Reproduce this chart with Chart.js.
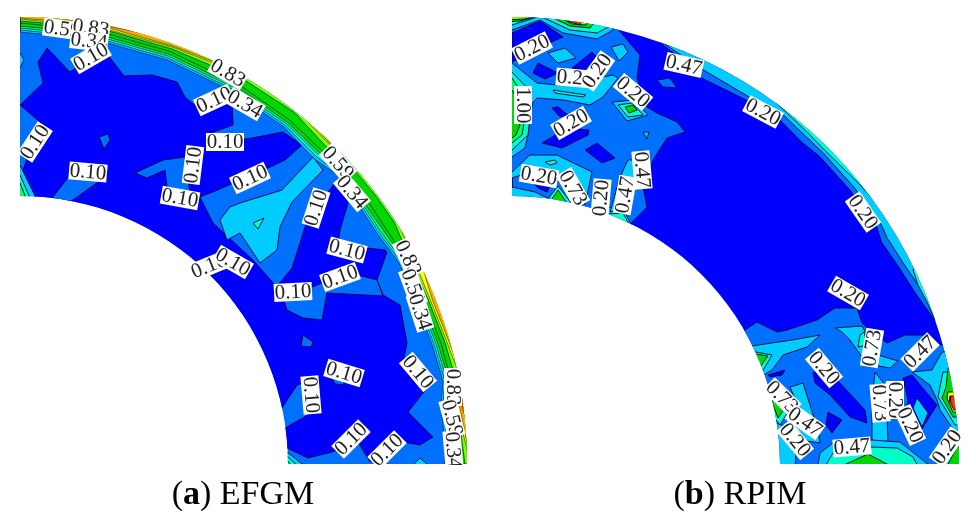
<!DOCTYPE html>
<html><head><meta charset="utf-8">
<style>html,body{margin:0;padding:0;background:#fff}#w{position:absolute;left:0;top:0;width:976px;height:528px}#c{filter:blur(0.45px)}</style>
<script src="https://cdn.jsdelivr.net/npm/chart.js@4"></script></head>
<body><div id="w"><canvas id="c" width="976" height="528"></canvas></div>
<script>
// contour palette (low to high)
const C0='#0000ff',C1='#0070ff',C2='#00ccff',C3='#00ffc8',C4='#00ff64',C5='#00d800',C6='#80ff00',C7='#ffff00',C8='#ffa800',C9='#ff3000';

// ---------- (a) EFGM : contours near the outer rim, radii read per angle
const aThetas=[90,80,70,60,52,46,42,37,33,28,22,16,11,8,4,0];
const aCyan  =[432,431,430,429,428,424,430,426,425,429,428,429,431,425,425,425];
const aTeal  =[434,433,432,431,430,427,432,428,427,431,430,431,433,427,427,427];
const aMint  =[436,435,434,433,432,430,434,430,429,433,432,433,435,429,429,429];
const aGreen =[438,437,436,435,434,432,436,432,432,435,434,435,437,431,431,431];
const aDark  =[441,440,439,438,437,435,439,436,435,437,436,438,439,434,434,434];
const aLime  =[443,443,442,445,446,441,445.5,445.5,445.5,441,440,442,444,438,442,445];
const aYellow=[445,444,444,449,449,445,449,449,449,444,442,444,449,441,444,451];
const aOrange=[446,446,445,451,451,446,451,451,451,451,444,446,451,443,446,451];
const aRed   =[451,447,451,451,451,451,451,451,451,451,451,451,451,445,451,451];

// (a) regions
const aBase=[[10,10],[480,10],[480,470],[10,470]];
const aDeep=[[20,105],[43,83],[38,62],[47,48],[70,72],[80,65],[108,55],[124,76],[152,75],[177,82],[185,97],[197,107],[232,100],[233,125],[208,134],[240,140],[257,137],[283,132],[302,145],[285,160],[268,168],[240,180],[220,189],[200,197],[213,223],[253,260],[275,285],[278,285],[292,268],[300,243],[305,227],[328,192],[337,180],[348,203],[340,230],[338,245],[385,250],[387,252],[377,280],[383,295],[400,305],[407,343],[403,363],[435,378],[408,412],[433,437],[420,445],[403,442],[385,455],[370,462],[358,442],[332,452],[308,458],[287,448],[285,428],[308,415],[303,383],[297,385],[282,408],[200,400],[100,280],[33,195],[23,170],[30,150],[47,128]];
const aFinger=[[135,173],[163,160],[185,157],[190,193],[200,198],[185,200],[167,187],[165,170],[147,178]];
const aWedge=[[53,197],[70,175],[88,172],[105,177],[73,200],[60,205]];
const aPatch=[[278,287],[283,297],[287,310],[303,318],[322,320],[327,293],[383,296],[377,280],[358,275],[342,265],[325,282],[312,287]];
const aSpecks=[[99,137],[108,134],[110,140],[104,149]];
const aSpeck2=[[303,335],[313,342],[311,347],[301,346]];
const aSpeck3=[[332,378],[345,381],[343,385],[335,384]];
const aLake=[[313,157],[282,190],[240,203],[230,207],[220,220],[227,240],[240,233],[260,263],[277,250],[280,227],[292,202],[323,170]];
const aIsle=[[253,223],[264,218],[258,229]];
const aEdge=[[20,53],[24,60],[20,68],[12,60]];
const aCornerCyan=[[20,165],[36,198],[15,198]];
const aCornerTeal=[[20,175],[30,198],[15,198]];
const aCornerGreen=[[20,183],[26,198],[15,198]];
const aFootCyan=[[287,452],[310,470],[280,470]];
const aFootTeal=[[287,456],[302,470],[280,470]];
const aFootGreen=[[287,460],[295,470],[280,470]];
const aFootSpot=[[413,465],[420,458],[428,465]];
const aInnerSpot=[[208,268],[216,262],[220,270],[212,276]];

// ---------- (b) RPIM : contours near the outer rim
const bThetas=[72,70,66,64,57,52,48,45,39,33,31,27,23,19,18];
const bBlue =[451,445,436,430,433,436,433,435,435,435,431,434,438,446,451];
const bCyan =[451,447,440,438,437,442,440,440,440,440,438,440,445,451,451];
const bTeal =[451,449,451,451,451,446,444,443,446,451,451,451,451,451,451];

// (b) regions
const bBase=[[500,10],[970,10],[970,470],[500,470]];
const bUpper=[[500,0],[600,0],[617,28],[640,55],[637,78],[647,107],[657,113],[677,122],[685,132],[667,138],[653,160],[643,187],[647,207],[632,222],[600,300],[500,300]];
const bDeepA=[[512,33],[540,21],[563,37],[545,45],[512,62]];
const bDeepB=[[533,73],[538,63],[558,73],[545,79]];
const bDeepC=[[572,68],[592,52],[596,56],[585,70]];
const bDeepD=[[552,108],[558,107],[568,115],[560,117]];
const bDeepE=[[542,143],[567,128],[589,130],[588,135],[562,148]];
const bDeepF=[[585,150],[597,143],[615,158],[602,163]];
const bDeepG=[[533,182],[550,185],[547,192],[537,187]];
const bTopCyan=[[505,30],[512,30],[540,20],[563,33],[597,39],[613,30],[618,5],[505,5]];
const bTopTeal=[[505,25],[512,25],[540,16],[570,30],[597,33],[608,27],[612,5],[505,5]];
const bTopGreen=[[505,22],[520,21],[545,14],[570,26],[590,28],[596,20],[598,5],[505,5]];
const bTopLime=[[505,20],[525,19],[550,12],[572,24],[586,25],[590,10],[505,5]];
const bTopRed=[[560,10],[568,21],[580,25],[584,10]];
const bCyanA=[[548,53],[565,48],[576,58],[558,63]];
const bCyanB=[[611,47],[623,44],[628,52],[619,61]];
const bBar=[[505,60],[512,63],[537,83],[557,85],[587,80],[613,75],[618,78],[603,97],[590,105],[563,100],[537,98],[533,102],[530,115],[528,135],[525,148],[512,157],[505,157]];
const bLeftTeal=[[505,72],[512,72],[527,88],[530,117],[528,135],[512,150],[505,150]];
const bLeftGreen=[[505,78],[512,78],[520,90],[525,117],[522,135],[512,143],[505,143]];
const bLeftDark=[[505,90],[512,90],[518,100],[520,125],[516,135],[512,138],[505,138]];
const bSliver=[[553,90],[586,95],[583,97],[555,93]];
const bHotCyan=[[612,102],[633,100],[648,115],[627,121]];
const bHotTeal=[[618,105],[632,103],[643,115],[628,117]];
const bHotGreen=[[625,107],[633,105],[637,110],[629,113]];
const bSpeck=[[657,80],[670,78],[677,88],[663,87]];
const bSpot=[[643,132],[649,132],[647,139]];
const bSouth=[[505,172],[512,172],[530,155],[557,155],[592,172],[585,205],[575,185],[560,178],[530,172],[512,178],[512,198],[505,198]];
const bSouthB=[[512,187],[535,192],[552,200],[520,205],[505,205]];
const bSouthTeal=[[545,162],[555,160],[557,163],[550,165]];
const bHotS1=[[548,199],[558,186],[572,204],[560,212]];
const bHotS2=[[552,199],[558,190],[567,203],[560,207]];
const bRimCyan=[[600,212],[620,203],[632,226],[600,226]];
const bRimTeal=[[607,214],[623,213],[630,226],[610,226]];
const bFingerN=[[620,177],[628,160],[637,160],[637,180],[618,210],[610,212]];
const bLower=[[745,330],[757,322],[777,332],[787,330],[817,320],[835,308],[857,308],[862,323],[875,335],[887,343],[905,335],[930,335],[940,345],[975,345],[975,480],[700,480],[700,340]];
const bCyanL=[[745,347],[792,340],[820,335],[807,347],[783,355],[772,370],[755,380],[745,380]];
const bTealL=[[745,350],[772,355],[762,372],[745,375]];
const bGreenL=[[750,353],[768,356],[760,367],[750,365]];
const bCyanM=[[835,328],[862,326],[878,355],[898,361],[890,368],[873,365],[862,357],[850,340],[842,332]];
const bTealM=[[860,335],[864,332],[867,345],[858,347]];
const bDeepL1=[[768,375],[785,370],[782,375],[770,377]];
const bDeepL2=[[813,373],[820,363],[840,383],[865,410],[867,423],[850,417],[830,395],[815,383]];
const bDeepL3=[[828,412],[842,420],[832,433],[826,425]];
const bFingerS=[[875,372],[885,385],[887,417],[888,442],[872,442],[872,400]];
const bDeepR=[[903,378],[912,375],[937,405],[923,427],[915,442],[910,442],[903,427],[908,400]];
const bDiamond=[[913,408],[917,398],[928,413],[922,427]];
const bEastCyan=[[942,352],[932,370],[912,372],[930,385],[937,400],[940,410],[955,432],[975,432],[975,350]];
const bEastTeal=[[943,372],[938,397],[955,425],[975,425],[975,372]];
const bEastGreen=[[948,368],[946,387],[942,398],[953,417],[975,417],[975,368]];
const bEastYellow=[[948,392],[947,398],[953,412],[975,412],[975,392]];
const bEastRed=[[950,396],[950,402],[954,410],[975,410],[975,396]];
const bFootCyan=[[817,470],[820,453],[833,443],[872,440],[900,442],[935,470]];
const bFootTeal=[[823,470],[833,453],[870,447],[897,448],[913,457],[920,470]];
const bFootGreen=[[833,470],[868,454],[898,470]];
const bCyanW=[[790,387],[803,383],[818,430],[820,443],[800,440],[790,430],[800,410]];
const bGreenW1=[[770,395],[790,408],[780,425],[772,415]];
const bGreenW2=[[772,400],[785,408],[778,418],[773,405]];
const bCyanSW=[[775,423],[797,430],[795,470],[765,470]];
const bSouthE1=[[935,470],[957,437],[965,437],[965,470]];
const bSouthE2=[[945,470],[957,447],[965,447],[965,470]];
const bRimTealE=[[913,270],[918,285],[927,302],[935,320],[945,290],[920,260]];
const bRimGreenE=[[919,275],[925,290],[930,297],[940,285],[922,266]];

// contour labels: [text, x, y, turn in degrees]
const aLabels=[['0.59',62,29,8],['0.83',91,28,8],['0.34',89,41,6],['0.10',91,57,-30],['0.83',228,73,30],['0.10',214,100,-25],['0.34',245,104,30],['0.10',225,142,0],['0.10',193,165,-83],['0.10',180,198,10],['0.10',250,178,-25],['0.10',88,172,5],['0.10',35,142,-57],['0.59',338,163,48],['0.34',352,192,50],['0.10',316,208,-72],['0.10',347,250,15],['0.10',340,277,-20],['0.10',293,292,-3],['0.83',408,258,65],['0.59',413,287,70],['0.34',420,312,72],['0.10',418,372,50],['0.10',344,373,17],['0.10',311,395,85],['0.10',209,266,-22],['0.10',233,262,30],['0.10',351,439,-45],['0.10',387,450,-45],['0.83',453,387,90],['0.59',452,418,75],['0.34',453,450,85]];
const bLabels=[['0.20',532,48,-27],['0.20',575,78,5],['0.20',597,71,-55],['0.47',684,65,13],['0.20',633,92,40],['1.00',523,105,90],['0.20',571,123,-30],['0.20',539,176,10],['0.73',573,188,60],['0.20',601,198,-85],['0.47',625,195,-80],['0.47',642,170,85],['0.20',763,112,28],['0.20',863,212,55],['0.20',848,293,30],['0.73',872,348,-80],['0.47',920,352,-45],['0.20',824,368,50],['0.73',782,397,45],['0.47',805,422,35],['0.20',795,440,50],['0.73',880,403,85],['0.20',895,400,90],['0.20',910,425,65],['0.47',852,447,-5],['0.20',947,447,-55]];

// panel outlines: [centre x, centre y, outer radius, inner radius]
const panelA=[20,464,447,268];
const panelB=[512,464,447,268];
const captionA=['(','a',') EFGM',243];
const captionB=['(','b',') RPIM',740];

const rim=(panel,thetas,radii)=>{
  const p=thetas.map((t,i)=>[panel[0]+radii[i]*Math.cos(t*Math.PI/180),panel[1]-radii[i]*Math.sin(t*Math.PI/180)]);
  const back=[...thetas].reverse().map(t=>[panel[0]+470*Math.cos(t*Math.PI/180),panel[1]-470*Math.sin(t*Math.PI/180)]);
  return p.concat(back);
};
const layers=[
 [aBase,C1,0],
 [aEdge,C2],
 [aDeep,C0],[aFinger,C1],[aWedge,C1],[aPatch,C1],[aSpecks,C1],[aSpeck2,C1],[aSpeck3,C1],[aInnerSpot,C1],
 [aLake,C2],[aIsle,C3],
 [aCornerCyan,C2],[aCornerTeal,C3],[aCornerGreen,C4],[aFootCyan,C2],[aFootTeal,C3],[aFootGreen,C4],[aFootSpot,C2],
 [rim(panelA,aThetas,aCyan),C2,.6],[rim(panelA,aThetas,aTeal),C3,.6],[rim(panelA,aThetas,aMint),C4,.6],[rim(panelA,aThetas,aGreen),C5,.6],[rim(panelA,aThetas,aDark),C5,.6],[rim(panelA,aThetas,aLime),C6,.6],[rim(panelA,aThetas,aYellow),C7,.5],[rim(panelA,aThetas,aOrange),C8,.5],[rim(panelA,aThetas,aRed),C9,.5],
 [bBase,C0,0],
 [rim(panelB,bThetas,bBlue),C1],[rim(panelB,bThetas,bCyan),C2],[rim(panelB,bThetas,bTeal),C3],
 [bRimTealE,C3],[bRimGreenE,C5],
 [bUpper,C1],
 [bTopCyan,C2],[bTopTeal,C3],[bTopGreen,C5],[bTopLime,C6],[bTopRed,C9],
 [bDeepA,C0],[bDeepB,C0],[bDeepC,C0],[bDeepD,C0],[bDeepE,C0],[bDeepF,C0],[bDeepG,C0],
 [bCyanA,C2],[bCyanB,C2],[bBar,C2],[bLeftTeal,C3],[bLeftGreen,C4],[bLeftDark,C5],[bSliver,C3],
 [bHotCyan,C2],[bHotTeal,C3],[bHotGreen,C5],[bSpeck,C1],[bSpot,C2],
 [bSouth,C2],[bSouthB,C2],[bSouthTeal,C3],[bDeepG,C0],[bHotS1,C3],[bHotS2,C5],[bRimCyan,C2],[bRimTeal,C3],[bFingerN,C2],
 [bLower,C1],[bCyanL,C2],[bTealL,C3],[bGreenL,C5],[bCyanM,C2],[bTealM,C3],
 [bDeepL1,C0],[bDeepL2,C0],[bDeepL3,C0],[bFingerS,C2],[bDeepR,C0],[bDiamond,C2],
 [bEastCyan,C2],[bEastTeal,C3],[bEastGreen,C5],[bEastYellow,C7],[bEastRed,C9],
 [bFootCyan,C2],[bFootTeal,C3],[bFootGreen,C5],[bCyanW,C2],[bGreenW1,C3],[bGreenW2,C5],[bCyanSW,C2],[bSouthE1,C3],[bSouthE2,C5]
];

const N=layers.length;
const datasets=layers.map(([pts,col,lw],i)=>{
  const closed=pts.concat([pts[0]]);
  return {type:'scatter',data:closed.map(([x,y])=>({x,y})),showLine:true,fill:'shape',backgroundColor:col,
    borderColor:lw===0?col:'#00003a',borderWidth:lw===undefined?0.9:lw,tension:0,pointRadius:0,order:N-i,clip:false};
});

const panelPath=(ctx,x,y,pnl)=>{
  const cx=x.getPixelForValue(pnl[0]),cy=y.getPixelForValue(pnl[1]);
  const R=x.getPixelForValue(pnl[0]+pnl[2])-cx,r=x.getPixelForValue(pnl[0]+pnl[3])-cx;
  ctx.moveTo(cx,cy-R);ctx.arc(cx,cy,R,-Math.PI/2,0);ctx.lineTo(cx+r,cy);ctx.arc(cx,cy,r,0,-Math.PI/2,true);ctx.closePath();
};
const clipPlugin={id:'annulus',
  beforeDatasetsDraw(ch){const c=ch.ctx,{x,y}=ch.scales;c.save();c.beginPath();panelPath(c,x,y,panelA);panelPath(c,x,y,panelB);c.clip();},
  afterDatasetsDraw(ch){
    const c=ch.ctx,{x,y}=ch.scales;c.restore();
    c.save();c.beginPath();c.rect(0,0,976,y.getPixelForValue(465));c.clip();
    c.font='21px "Liberation Serif"';c.textAlign='center';c.textBaseline='middle';
    [...aLabels,...bLabels].forEach(([t,lx,ly,rot])=>{
      c.save();c.translate(x.getPixelForValue(lx),y.getPixelForValue(ly));c.rotate(rot*Math.PI/180);
      c.fillStyle='#fff';c.fillRect(-19,-9,38,18);c.fillStyle='#222';c.fillText(t,0,0.5);c.restore();
    });
    c.restore();
    c.save();c.textBaseline='alphabetic';c.fillStyle='#000';
    [captionA,captionB].forEach(([p,l,s,mid])=>{
      const reg='34px "Liberation Serif"',bold='bold 34px "Liberation Serif"';
      c.font=reg;const w1=c.measureText(p).width,w3=c.measureText(s).width;
      c.font=bold;const w2=c.measureText(l).width;
      let px=x.getPixelForValue(mid)-(w1+w2+w3)/2;const py=y.getPixelForValue(504);
      c.font=reg;c.fillText(p,px,py);px+=w1;c.font=bold;c.fillText(l,px,py);px+=w2;c.font=reg;c.fillText(s,px,py);
    });
    c.restore();
  }};

new Chart(document.getElementById('c'),{type:'scatter',data:{datasets},plugins:[clipPlugin],options:{
  responsive:false,animation:false,devicePixelRatio:1,
  layout:{padding:0},
  plugins:{legend:{display:false},tooltip:{enabled:false},title:{display:false}},
  scales:{x:{type:'linear',min:0,max:976,display:false},y:{type:'linear',min:0,max:528,reverse:true,display:false}}
}});
</script></body></html>
